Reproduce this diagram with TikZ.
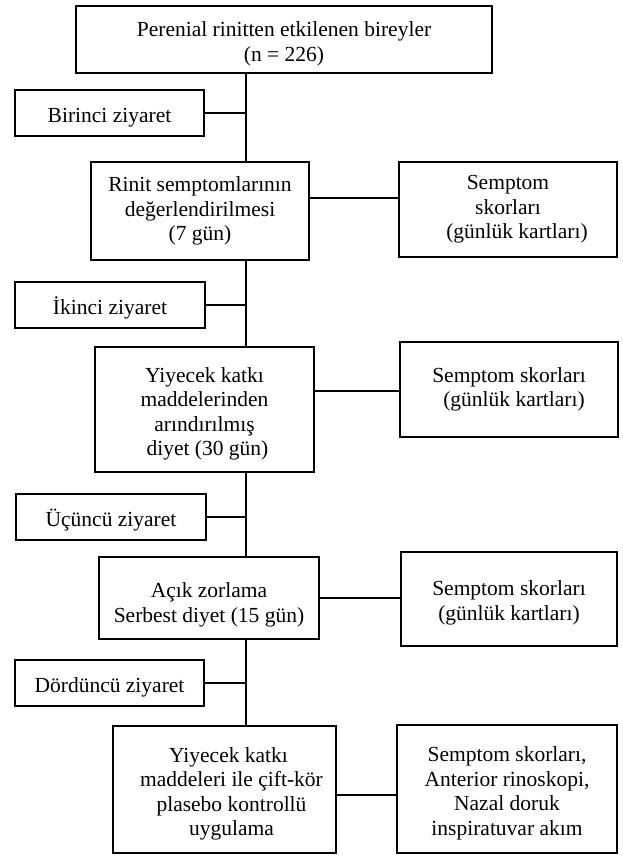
\documentclass[tikz,border=0pt]{standalone}
\usepackage{fontspec}
\setmainfont{Liberation Serif}
\newcommand\tstrut[1]{\rule{0pt}{#1pt}}
\begin{document}
\begin{tikzpicture}[x=1pt,y=-1pt,
  box/.style={draw, line width=1.5pt, align=center, inner sep=0pt,
    font=\fontsize{21.5}{24.5}\selectfont},
  link/.style={line width=1.5pt}]
\fill[white] (0,0) rectangle (623,857);
\useasboundingbox (0,0) rectangle (623,857);
\coordinate (tx) at (246,0);
% main column
\node[box, minimum width=416pt, minimum height=67pt] (top) at (284,39.5)
  {\tstrut{23.7}Perenial rinitten etkilenen bireyler\\(n = 226)};
\node[box, minimum width=218pt, minimum height=98pt] (rinit) at (200,211)
  {Rinit semptomlarının\\değerlendirilmesi\\(7 gün)};
\node[box, minimum width=219pt, minimum height=125pt] (diet) at (204.5,409.5)
  {\tstrut{23.7}Yiyecek katkı\\maddelerinden\\arındırılmış\\\hspace*{6pt}diyet (30 gün)};
\node[box, minimum width=220pt, minimum height=82pt] (open) at (209,598)
  {\tstrut{28.7}Açık zorlama\\Serbest diyet (15 gün)};
\node[box, minimum width=223pt, minimum height=127pt] (last) at (224.5,789.5)
  {\tstrut{23.7}\hspace*{8pt}Yiyecek katkı\\\hspace*{14pt}maddeleri ile çift-kör\\\hspace*{14pt}plasebo kontrollü\\\hspace*{14pt}uygulama};
% visits
\node[box, minimum width=189pt, minimum height=46pt] (v1) at (109.5,113) {\tstrut{22.7}Birinci ziyaret};
\node[box, minimum width=190pt, minimum height=46pt] (v2) at (110,305) {\tstrut{22.7}İkinci ziyaret};
\node[box, minimum width=190pt, minimum height=46pt] (v3) at (111,517) {\tstrut{22.7}Üçüncü ziyaret};
\node[box, minimum width=189pt, minimum height=46pt] (v4) at (109.5,683) {\tstrut{22.7}Dördüncü ziyaret};
% symptom boxes
\node[box, minimum width=218pt, minimum height=95pt] (s1) at (508,209.5)
  {Semptom\\skorları\\\hspace*{18pt}(günlük kartları)};
\node[box, minimum width=218pt, minimum height=95pt] (s2) at (509,389.5)
  {Semptom skorları\\\hspace*{10pt}(günlük kartları)};
\node[box, minimum width=216pt, minimum height=94pt] (s3) at (509,599)
  {\tstrut{22.7}Semptom skorları\\(günlük kartları)};
\node[box, minimum width=220pt, minimum height=128pt] (s4) at (507,789)
  {\tstrut{23.7}Semptom skorları,\\Anterior rinoskopi,\\Nazal doruk\\inspiratuvar akım};
% trunk
\draw[link] (top.south -| tx) -- (rinit.north -| tx);
\draw[link] (rinit.south -| tx) -- (diet.north -| tx);
\draw[link] (diet.south -| tx) -- (open.north -| tx);
\draw[link] (open.south -| tx) -- (last.north -| tx);
% visit links
\draw[link] (v1.east) -- (v1.east -| tx);
\draw[link] (v2.east) -- (v2.east -| tx);
\draw[link] (v3.east) -- (v3.east -| tx);
\draw[link] (v4.east) -- (v4.east -| tx);
% symptom links
\draw[link] ([yshift=13pt]rinit.east) -- ([yshift=13pt]rinit.east -| s1.west);
\draw[link] ([yshift=-1.5pt]s2.west -| diet.east) -- ([yshift=-1.5pt]s2.west);
\draw[link] (open.east) -- (open.east -| s3.west);
\draw[link] ([yshift=-5.5pt]last.east) -- ([yshift=-5.5pt]last.east -| s4.west);
\end{tikzpicture}
\end{document}
